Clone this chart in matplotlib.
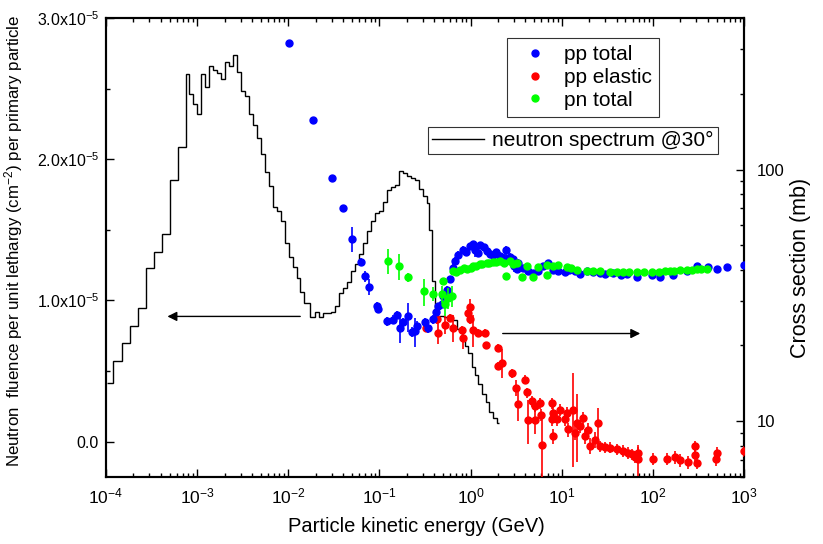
import numpy as np
import matplotlib
matplotlib.use("Agg")
import matplotlib.pyplot as plt
from matplotlib.ticker import FixedLocator, FuncFormatter, LogLocator, NullFormatter
from matplotlib.lines import Line2D

plt.rcParams['font.family'] = ['Liberation Sans', 'DejaVu Sans']
plt.rcParams['mathtext.fontset'] = 'custom'
plt.rcParams['mathtext.rm'] = 'Liberation Sans'
plt.rcParams['mathtext.it'] = 'Liberation Sans:italic'
plt.rcParams['mathtext.bf'] = 'Liberation Sans:bold'

# neutron spectrum @30 deg (histogram bin edges in GeV, fluence in units of 1e-5)
spec_edges = [1.03e-4, 1.20e-4, 1.50e-4, 1.83e-4, 2.23e-4, 2.73e-4, 3.34e-4, 4.09e-4, 5.00e-4, 6.12e-4,
              7.49e-4, 8.20e-4, 9.08e-4, 1.00e-3, 1.11e-3, 1.23e-3, 1.36e-3, 1.50e-3, 1.66e-3, 1.84e-3,
              2.04e-3, 2.25e-3, 2.47e-3, 2.72e-3, 3.01e-3, 3.32e-3, 3.68e-3, 4.07e-3, 4.50e-3, 4.98e-3,
              5.51e-3, 6.09e-3, 6.74e-3, 7.46e-3, 8.25e-3, 9.13e-3, 1.01e-2, 1.12e-2, 1.24e-2, 1.35e-2,
              1.50e-2, 1.75e-2, 1.94e-2, 2.15e-2, 2.39e-2, 2.64e-2, 2.95e-2, 3.26e-2, 3.61e-2, 3.96e-2,
              4.38e-2, 4.84e-2, 5.36e-2, 5.93e-2, 6.56e-2, 7.25e-2, 8.02e-2, 8.88e-2, 9.82e-2, 0.109,
              0.120, 0.133, 0.147, 0.163, 0.180, 0.199, 0.220, 0.244, 0.270, 0.299,
              0.330, 0.352, 0.382, 0.412, 0.515, 0.594, 0.715, 0.799, 0.869, 0.944,
              1.03, 1.12, 1.22, 1.33, 1.48, 1.61, 1.78, 1.94, 2.07]
spec_vals = [0.415, 0.57, 0.70, 0.82, 0.95, 1.23, 1.34, 1.47, 1.85, 2.09,
             2.60, 2.46, 2.39, 2.32, 2.60, 2.51, 2.66, 2.63, 2.61, 2.57,
             2.69, 2.66, 2.74, 2.62, 2.48, 2.45, 2.32, 2.24, 2.15, 2.04,
             1.91, 1.81, 1.66, 1.63, 1.56, 1.41, 1.31, 1.24, 1.16, 1.06,
             0.98, 0.88, 0.92, 0.88, 0.91, 0.91, 0.92, 0.96, 1.05, 1.09,
             1.13, 1.21, 1.26, 1.33, 1.41, 1.49, 1.56, 1.62, 1.63, 1.70,
             1.78, 1.80, 1.82, 1.92, 1.90, 1.88, 1.87, 1.85, 1.79, 1.74,
             1.69, 1.50, 1.14, 0.89, 0.88, 0.86, 0.80, 0.74, 0.68, 0.63,
             0.53, 0.47, 0.41, 0.34, 0.28, 0.21, 0.17, 0.13]

# pp total cross section (GeV, mb)
pp_total_E = [0.0103, 0.0188, 0.0299, 0.0402, 0.0497, 0.0624, 0.070, 0.0769, 0.0933, 0.0973,
              0.120, 0.142, 0.157, 0.168, 0.180, 0.207, 0.226, 0.245, 0.261, 0.319,
              0.343, 0.390, 0.418, 0.443, 0.482, 0.502, 0.547, 0.594, 0.647, 0.675,
              0.734, 0.832, 0.90, 0.987, 1.05, 1.12, 1.20, 1.27, 1.40, 1.50,
              1.65, 1.78, 1.90, 2.10, 2.30, 2.45, 2.70, 2.94, 3.00, 3.21,
              3.34, 3.80, 4.30, 4.88, 5.50, 6.28, 7.13, 8.0, 9.18, 11.0,
              12.0, 14.0, 16.0, 18.8, 22.0, 26.3, 30.0, 36.8, 45.0, 51.6,
              66.5, 97.1, 120, 168, 235, 303, 406, 502, 656, 1000]
pp_total_sigma = [317, 157, 92.7, 70.5, 53.1, 42.9, 37.6, 34.2, 28.8, 27.8,
                  24.9, 25.3, 26.4, 23.5, 24.7, 26.1, 22.6, 22.8, 23.9, 24.7,
                  23.5, 25.4, 27.1, 28.6, 29.1, 31.4, 33.3, 36.6, 40.6, 43.3,
                  45.9, 48.1, 47.0, 49.5, 50.5, 48.1, 46.5, 49.9, 49.0, 47.3,
                  46.0, 45.9, 47.0, 45.3, 44.5, 47.8, 45.0, 43.9, 41.5, 40.3,
                  42.6, 40.5, 39.5, 38.9, 39.5, 41.3, 42.6, 40.0, 39.5, 39.0,
                  40.0, 39.5, 38.5, 39.5, 39.0, 38.9, 38.5, 38.9, 38.0, 38.6,
                  37.5, 38.0, 37.5, 38.0, 39.5, 41.3, 41.0, 40.3, 40.9, 41.9]
pp_total_err = [1, 1, 1.5, 1.5, 6, 1.5, 2, 2.5, 1, 1,
                1, 1, 1, 3, 1, 3.5, 1, 3, 1, 1,
                1, 1, 1, 1, 1, 1, 1, 1, 1.5, 1.5,
                1.5, 1.5, 1.5, 1.5, 1.5, 3, 1.5, 1.5, 1.5, 1.5,
                1.5, 1.5, 1.5, 1.5, 1.5, 2, 1.5, 1.5, 2.5, 1.5,
                1.5, 1, 1, 1, 1, 1, 1, 1, 1, 1,
                1, 1, 1, 1, 1, 1, 1, 1, 1, 1,
                1, 1, 1, 1, 1, 1, 1, 1, 1, 1]

# pp elastic cross section (GeV, mb)
pp_el_E = [0.322, 0.425, 0.443, 0.525, 0.594, 0.647, 0.800, 0.832, 0.944, 0.987,
           0.987, 1.07, 1.22, 1.44, 1.48, 1.99, 1.99, 2.20, 2.83, 3.15,
           3.34, 3.96, 4.11, 4.30, 4.69, 5.09, 5.09, 5.78, 6.0, 6.15,
           7.77, 8.1, 7.77, 8.1, 8.81, 9.58, 10.9, 11.4, 11.8, 13.4,
           14.0, 14.6, 15.9, 17.3, 18.1, 19.6, 20.5, 23.2, 25.1, 26.3,
           29.9, 33.9, 40.2, 47.4, 53.8, 58.5, 63.7, 69.2, 69.2, 101,
           142, 175, 199, 245, 290, 290, 303, 502, 495, 1000]
pp_el_sigma = [23.5, 25.4, 22.5, 24.2, 25.8, 23.5, 23.1, 21.4, 27.0, 28.5,
               25.4, 23.1, 22.5, 22.5, 20.0, 19.6, 16.6, 17.1, 15.5, 13.6,
               11.7, 14.6, 13.0, 10.1, 12.0, 11.5, 10.1, 11.8, 10.6, 8.07,
               11.8, 10.8, 10.2, 8.71, 10.2, 11.1, 10.2, 10.8, 9.27, 11.1,
               9.00, 9.86, 9.55, 10.3, 8.71, 9.21, 8.00, 8.45, 9.86, 7.95,
               7.89, 7.84, 7.73, 7.61, 7.49, 7.38, 7.23, 7.49, 7.05, 7.10,
               7.10, 7.18, 7.00, 6.87, 7.95, 7.31, 6.85, 7.49, 7.05, 7.6]
pp_el_err = [0.8, 1, 2.2, 1.9, 0.8, 2.8, 0.8, 2.1, 0.8, 2.2,
             1, 3.4, 0.8, 0.8, 0.7, 0.6, 0.6, 2.2, 0.6, 1.0,
             1.7, 0.6, 0.6, 2.0, 0.6, 0.6, 1.2, 0.6, 0.6, 2.6,
             0.6, 0.6, 0.6, 0.6, 0.6, 0.6, 0.6, 0.6, 0.6, 4.5,
             0.6, 3.0, 0.6, 0.6, 0.6, 0.6, 0.6, 0.6, 1.4, 0.4,
             0.4, 0.4, 0.4, 0.4, 0.4, 0.4, 0.4, 0.4, 1.0, 0.4,
             0.4, 0.4, 0.4, 0.4, 0.4, 0.4, 0.4, 0.4, 0.4, 0.4]

# pn total cross section (GeV, mb)
pn_total_E = [0.125, 0.165, 0.207, 0.310, 0.385, 0.482, 0.502, 0.525, 0.570, 0.621,
              0.647, 0.70, 0.766, 0.85, 0.908, 1.0, 1.07, 1.15, 1.27, 1.35,
              1.50, 1.6, 1.78, 1.9, 2.10, 2.3, 2.45, 2.71, 2.9, 3.21,
              3.64, 4.2, 4.88, 5.5, 6.84, 6.84, 8.0, 9.18, 11.4, 12.5,
              14.6, 18.8, 22.0, 26.3, 33.9, 40.0, 47.4, 55.0, 66.5, 80.0,
              97.1, 118, 135, 154, 170, 199, 235, 270, 303, 340, 390]
pn_total_sigma = [43.3, 41.3, 37.3, 32.8, 32.1, 32.0, 36.0, 29.1, 30.9, 31.4,
                  39.5, 39.0, 39.8, 40.5, 40.1, 40.5, 41.3, 41.5, 42.0, 42.0,
                  42.6, 42.5, 42.9, 43.0, 43.3, 42.5, 37.6, 43.3, 42.0, 42.6,
                  37.3, 41.5, 37.5, 41.0, 41.6, 38.0, 41.5, 41.8, 40.8, 40.5,
                  40.0, 39.5, 39.5, 39.4, 39.3, 39.3, 39.1, 39.2, 39.3, 39.3,
                  39.3, 39.3, 39.5, 39.4, 39.6, 39.7, 39.8, 40.0, 40.1, 40.2, 40.3]
pn_total_err = [5, 5, 1.5, 4, 2, 2.5, 1, 3, 3, 3,
                1, 1, 1, 1, 1, 1, 1, 1, 1, 1,
                1, 1, 1, 1, 1, 1, 1, 1, 1, 1,
                1, 1, 1, 1, 1, 1, 1, 1, 1, 1,
                1, 1, 1, 1, 1, 1, 1, 1, 1, 1,
                1, 1, 1, 1, 1, 1, 1, 1, 1, 1, 1]

fig = plt.figure(figsize=(8.23, 5.44), dpi=100)
ax1 = fig.add_axes([106 / 823, 1 - 477 / 544, 638 / 823, 459 / 544])

# spectrum on left axis
ax1.stairs(np.array(spec_vals) * 1e-5, spec_edges, baseline=None, color='black', lw=1.0)
ax1.set_xscale('log')
ax1.set_xlim(1e-4, 1e3)
ax1.set_ylim(-2.5e-6, 3.0e-5)
ax1.yaxis.set_major_locator(FixedLocator([0, 1e-5, 2e-5, 3e-5]))
ax1.yaxis.set_minor_locator(FixedLocator([0.5e-5, 1.5e-5, 2.5e-5]))


def sci_fmt(v, pos):
    if abs(v) < 1e-12:
        return '0.0'
    return r'$%.1f\mathrm{x}10^{-5}$' % (v / 1e-5)


ax1.yaxis.set_major_formatter(FuncFormatter(sci_fmt))
ax1.xaxis.set_major_locator(LogLocator(base=10, numticks=20))
ax1.xaxis.set_minor_locator(LogLocator(base=10, subs=np.arange(2, 10), numticks=20))
ax1.xaxis.set_minor_formatter(NullFormatter())
ax1.tick_params(axis='both', which='both', direction='in', top=True, right=False, width=1.0)
ax1.tick_params(axis='both', which='major', length=6)
ax1.tick_params(axis='both', which='minor', length=3)
ax1.tick_params(axis='x', labelsize=12.5, pad=7)
ax1.tick_params(axis='y', labelsize=11.5, pad=5)
ax1.set_xlabel('Particle kinetic energy (GeV)', fontsize=14.5)
ax1.xaxis.set_label_coords(0.487, -0.087)
ax1.set_ylabel(r'Neutron  fluence per unit lethargy (cm$^{-2}$) per primary particle', fontsize=12.2)
ax1.yaxis.set_label_coords(-0.127, 0.515)
for s in ax1.spines.values():
    s.set_linewidth(1.5)

# cross sections on right log axis
ax2 = ax1.twinx()
ax2.set_yscale('log')
ax2.set_ylim(6.0, 400)
ax2.errorbar(pp_el_E, pp_el_sigma, yerr=pp_el_err, fmt='o', ms=5, color='#ff0000', ecolor='#ff0000',
             elinewidth=1.2, capsize=0, zorder=3)
ax2.errorbar(pp_total_E, pp_total_sigma, yerr=pp_total_err, fmt='o', ms=5, color='#0000ff', ecolor='#0000ff',
             elinewidth=1.2, capsize=0, zorder=4)
ax2.errorbar(pn_total_E, pn_total_sigma, yerr=pn_total_err, fmt='o', ms=5, color='#00ff00', ecolor='#00ff00',
             elinewidth=1.2, capsize=0, zorder=5)
ax2.yaxis.set_major_locator(LogLocator(base=10, numticks=10))
ax2.yaxis.set_minor_locator(LogLocator(base=10, subs=np.arange(2, 10), numticks=10))
ax2.yaxis.set_minor_formatter(NullFormatter())
ax2.yaxis.set_major_formatter(FuncFormatter(lambda v, p: '%d' % v))
ax2.tick_params(axis='y', which='both', direction='in', width=1.0, labelsize=12, pad=9)
ax2.tick_params(axis='y', which='major', length=6)
ax2.tick_params(axis='y', which='minor', length=3)
ax2.set_ylabel('Cross section (mb)', fontsize=15.5)
ax2.yaxis.set_label_coords(1.072, 0.455)
for s in ax2.spines.values():
    s.set_linewidth(1.5)

# arrows pointing to the relevant axis
ax1.annotate('', xy=(4.4e-4, 0.887e-5), xytext=(0.0145, 0.887e-5),
             arrowprops=dict(arrowstyle='-|>', color='black', lw=1.0, mutation_scale=14))
ax2.annotate('', xy=(78, 22.3), xytext=(2.1, 22.3),
             arrowprops=dict(arrowstyle='-|>', color='black', lw=1.0, mutation_scale=14))

# legends
h_pts = [Line2D([], [], marker='o', ls='none', ms=5, color=c) for c in ['#0000ff', '#ff0000', '#00ff00']]
leg1 = ax2.legend(h_pts, ['pp total', 'pp elastic', 'pn total'], loc='upper left',
                  bbox_to_anchor=(507 / 823, 1 - 38 / 544), bbox_transform=fig.transFigure,
                  fontsize=15, frameon=True, fancybox=False, borderaxespad=0, handlelength=2.0,
                  labelspacing=0.18, borderpad=0.35, handletextpad=0.4)
leg1.get_frame().set_edgecolor('black')
leg1.get_frame().set_linewidth(0.8)
ax2.add_artist(leg1)
h_line = [Line2D([], [], color='black', lw=1.0)]
leg2 = ax2.legend(h_line, [u'neutron spectrum @30\u00b0'], loc='upper left',
                  bbox_to_anchor=(428 / 823, 1 - 127 / 544), bbox_transform=fig.transFigure,
                  fontsize=15, frameon=True, fancybox=False, borderaxespad=0, handlelength=2.5,
                  borderpad=0.2, handletextpad=0.37)
leg2.get_frame().set_edgecolor('black')
leg2.get_frame().set_linewidth(0.8)

fig.savefig('out.png', dpi=100)
